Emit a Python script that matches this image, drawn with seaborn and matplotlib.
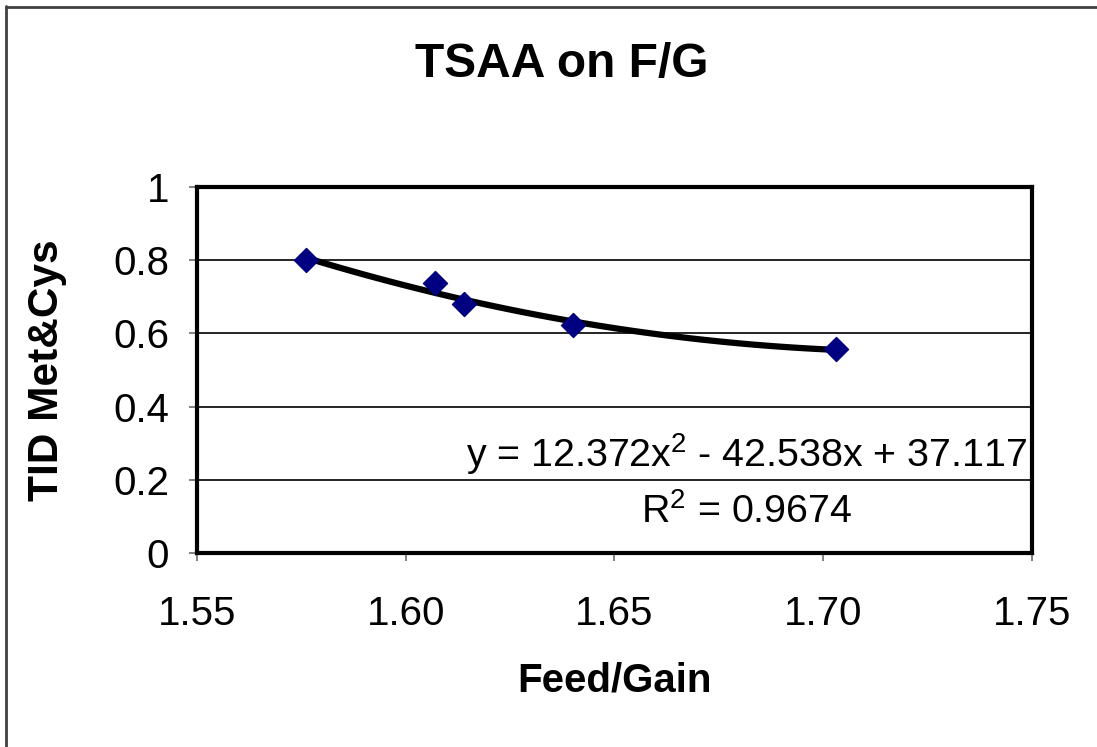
import numpy as np
import pandas as pd
import matplotlib
matplotlib.use("Agg")
import matplotlib.pyplot as plt
import seaborn as sns
from matplotlib.lines import Line2D

# data
feed_gain = [1.576, 1.607, 1.614, 1.640, 1.703]
met_cys = [0.800, 0.738, 0.680, 0.623, 0.557]
x_ticks = [1.55, 1.60, 1.65, 1.70, 1.75]
y_ticks = [0, 0.2, 0.4, 0.6, 0.8, 1]
y_tick_labels = ["0", "0.2", "0.4", "0.6", "0.8", "1"]
equation = "y = 12.372x$^2$ - 42.538x + 37.117\nR$^2$ = 0.9674"

df = pd.DataFrame({"Feed/Gain": feed_gain, "TID Met&Cys": met_cys})

sns.set_style("white")
plt.rcParams["font.family"] = ["Liberation Sans", "DejaVu Sans"]
plt.rcParams["mathtext.fontset"] = "custom"
plt.rcParams["mathtext.rm"] = "Liberation Sans"
plt.rcParams["mathtext.it"] = "Liberation Sans"
plt.rcParams["text.color"] = "black"
plt.rcParams["xtick.labelcolor"] = "black"
plt.rcParams["ytick.labelcolor"] = "black"

W, H = 1097, 747
fig = plt.figure(figsize=(W / 100, H / 100), dpi=100)
ax = fig.add_axes([197 / W, 1 - 553 / H, (1032 - 197) / W, (553 - 187) / H])

# polynomial trendline (order 2) fitted to the points
sns.regplot(data=df, x="Feed/Gain", y="TID Met&Cys", order=2, ci=None,
            scatter=False, ax=ax, line_kws={"color": "black", "lw": 4.5})
sns.scatterplot(data=df, x="Feed/Gain", y="TID Met&Cys", ax=ax, marker="D",
                s=150, color="#000080", edgecolor="#000080", zorder=3)

ax.set_xlim(1.55, 1.75)
ax.set_ylim(0, 1)
ax.set_xticks(x_ticks)
ax.set_xticklabels([f"{t:.2f}" for t in x_ticks])
ax.set_yticks(y_ticks)
ax.set_yticklabels(y_tick_labels)
ax.yaxis.grid(True, color="black", lw=1.2)
ax.set_axisbelow(True)
for s in ax.spines.values():
    s.set_color("black")
    s.set_linewidth(3)
ax.tick_params(axis="both", direction="out", length=6, width=1.3,
               color="#777777", labelsize=29, left=True, bottom=True,
               labelcolor="black")
ax.tick_params(axis="x", pad=24)
ax.tick_params(axis="y", pad=14)

ax.set_xlabel("")
ax.set_ylabel("")
fig.text(614 / W, 1 - 681 / H, "Feed/Gain", ha="center", va="center",
         fontsize=29, fontweight="bold")
fig.text(47 / W, 1 - 370 / H, "TID Met&Cys", ha="center", va="center",
         rotation=90, fontsize=30.5, fontweight="bold")
fig.text(562 / W, 1 - 65 / H, "TSAA on F/G", ha="center", va="center",
         fontsize=34.5, fontweight="bold")

ax.text(747 / W, 1 - 481 / H, equation, transform=fig.transFigure,
        ha="center", va="center", fontsize=28.4, linespacing=1.55)

# outer frame (left and top edges only visible)
fig.add_artist(Line2D([6 / W, 6 / W], [0, 1 - 6 / H], transform=fig.transFigure,
                      color="#404040", lw=2))
fig.add_artist(Line2D([6 / W, 1], [1 - 7 / H, 1 - 7 / H], transform=fig.transFigure,
                      color="#404040", lw=2))

fig.savefig("out.png", dpi=100)
